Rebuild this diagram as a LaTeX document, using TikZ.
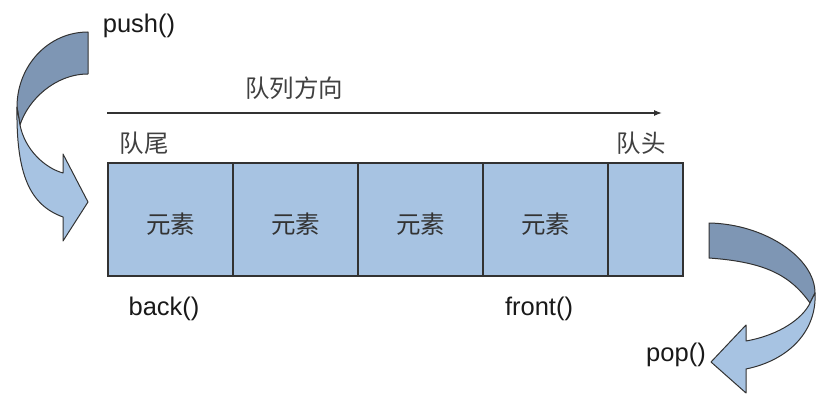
\documentclass[tikz,border=0pt]{standalone}
\usepackage{fontspec}
\setmainfont{Liberation Sans}
\newfontfamily\cjk{Noto Sans CJK SC}
\usetikzlibrary{arrows.meta}

\definecolor{cellblue}{RGB}{167,195,226}
\definecolor{backblue}{RGB}{126,150,180}
\definecolor{edgegray}{RGB}{50,50,50}

\tikzset{
  cell/.style={draw=edgegray,line width=1.2pt,fill=cellblue,minimum height=113pt,inner sep=0pt,text height=31pt,text depth=3pt,text=black!80,font=\cjk\fontsize{24.5}{28}\selectfont},
  fn/.style={text=black!90,font=\fontsize{25.5}{30}\selectfont},
  cn/.style={text=black!75,font=\cjk\fontsize{24.5}{28}\selectfont},
  band/.style={draw=edgegray,line width=1pt,line join=round}
}

\begin{document}
\begin{tikzpicture}[x=1pt,y=-1pt]
\useasboundingbox (0,0) rectangle (832,406);

\coordinate (dir_start) at (107,113);
\coordinate (dir_end) at (662,113);
\draw[edgegray,line width=1.2pt,-{Latex[length=8pt,width=6pt]}] (dir_start) -- (dir_end);
\node[cn] (dir) at (294,88) {队列方向};

\node[cn] (tail) at (144,143) {队尾};
\node[cn] (head) at (641,143) {队头};

\node[cell,minimum width=125pt] (e1) at (170.5,219.5) {元素};
\node[cell,minimum width=125pt] (e2) at (295.5,219.5) {元素};
\node[cell,minimum width=125pt] (e3) at (420.5,219.5) {元素};
\node[cell,minimum width=125pt] (e4) at (545.5,219.5) {元素};
\node[cell,minimum width=75pt] (e5) at (645.5,219.5) {};

\node[fn] (back) at (164,309) {back()};
\node[fn] (front) at (539,309) {front()};

% push arrow
\coordinate (push_tail_out) at (88,32);
\coordinate (push_tail_in) at (88,74);
\coordinate (push_left_out) at (17,107);
\coordinate (push_left_in) at (20,125);
\coordinate (push_neck_out) at (63,217);
\coordinate (push_neck_in) at (63,173);
\coordinate (push_barb_up) at (63,154);
\coordinate (push_barb_down) at (63,241);
\coordinate (push_tip) at (88,202);

\filldraw[band,fill=backblue] (push_tail_out) .. controls (48,32) and (17,66) .. (push_left_out)
  -- (push_left_in) .. controls (28,100) and (55,74) .. (push_tail_in) -- cycle;
\filldraw[band,fill=cellblue] (push_left_out) .. controls (16,175) and (30,205) .. (push_neck_out)
  -- (push_barb_down) -- (push_tip) -- (push_barb_up)
  -- (push_neck_in) .. controls (45,168) and (25,150) .. (push_left_in) -- cycle;
\node[fn] (push) at (139,26) {push()};

% pop arrow
\coordinate (pop_tail_out) at (709,223);
\coordinate (pop_tail_in) at (709,258);
\coordinate (pop_right_out) at (815,293);
\coordinate (pop_right_in) at (810,303);
\coordinate (pop_neck_out) at (746,369);
\coordinate (pop_neck_in) at (746,341);
\coordinate (pop_barb_up) at (746,325);
\coordinate (pop_barb_down) at (746,393);
\coordinate (pop_tip) at (711,362);

\filldraw[band,fill=backblue] (pop_tail_out) .. controls (765,224) and (815,258) .. (pop_right_out)
  -- (pop_right_in) .. controls (790,275) and (765,262) .. (pop_tail_in) -- cycle;
\filldraw[band,fill=cellblue] (pop_right_out) .. controls (817,330) and (790,360) .. (pop_neck_out)
  -- (pop_barb_down) -- (pop_tip) -- (pop_barb_up)
  -- (pop_neck_in) .. controls (780,335) and (803,318) .. (pop_right_in) -- cycle;
\node[fn] (pop) at (676,355) {pop()};
\end{tikzpicture}
\end{document}
